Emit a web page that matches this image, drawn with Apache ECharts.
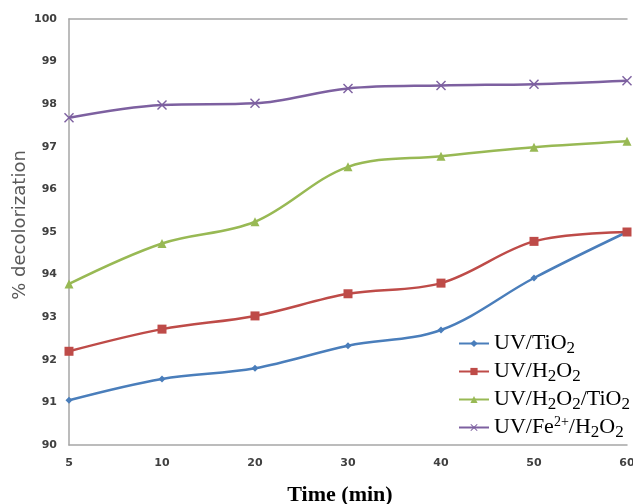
<!DOCTYPE html>
<html><head><meta charset="utf-8">
<script src="https://cdn.jsdelivr.net/npm/echarts@6/dist/echarts.min.js"></script>
<style>html,body{margin:0;padding:0;background:#fff}#c{width:633px;height:504px}</style>
</head><body><div id="c"></div>
<script>
const categories = ['5','10','20','30','40','50','60'];
const uvTiO2 = [91.05, 91.55, 91.8, 92.33, 92.7, 93.92, 95.0];
const uvH2O2 = [92.2, 92.72, 93.03, 93.55, 93.8, 94.78, 95.0];
const uvH2O2TiO2 = [93.78, 94.73, 95.24, 96.53, 96.78, 96.99, 97.13];
const uvFeH2O2 = [97.68, 97.98, 98.02, 98.37, 98.44, 98.47, 98.55];
const seriesNames = ['UV/TiO2', 'UV/H2O2', 'UV/H2O2/TiO2', 'UV/Fe2+/H2O2'];
const legendLabels = {
  'UV/TiO2': '{n|UV/TiO}{s|2}',
  'UV/H2O2': '{n|UV/H}{s|2}{n|O}{s|2}',
  'UV/H2O2/TiO2': '{n|UV/H}{s|2}{n|O}{s|2}{n|/TiO}{s|2}',
  'UV/Fe2+/H2O2': '{n|UV/Fe}{p|2+}{n|/H}{s|2}{n|O}{s|2}'
};

const crossPath = 'path://M0,1L1,0L5,4L9,0L10,1L6,5L10,9L9,10L5,6L1,10L0,9L4,5Z';
const colors = ['#4a7ebb', '#be4b48', '#98b954', '#7d60a0'];
const symbols = ['diamond', 'rect', 'triangle', crossPath];
const sizes = [7, 9, 9, 10];
const datas = [uvTiO2, uvH2O2, uvH2O2TiO2, uvFeH2O2];

const chart = echarts.init(document.getElementById('c'));
chart.setOption({
  animation: false,
  grid: {left: 69, right: 6, top: 19, bottom: 59, outerBoundsMode: 'none', containLabel: false},
  xAxis: [{
    type: 'category', data: categories, boundaryGap: false,
    axisLine: {lineStyle: {color: '#a6a6a6', width: 1.5}},
    axisTick: {show: false},
    axisLabel: {color: '#404040', fontSize: 11, fontWeight: 'bold', fontFamily: 'DejaVu Sans', margin: 13},
    name: 'Time (min)', nameLocation: 'middle', nameGap: 39, nameMoveOverlap: false,
    nameTextStyle: {fontFamily: 'Liberation Serif', fontWeight: 'bold', fontSize: 22, color: '#000', padding: [0, 16, 0, 0]}
  }, {
    type: 'category', data: categories, boundaryGap: false, position: 'top',
    axisLine: {lineStyle: {color: '#a6a6a6', width: 1.5}},
    axisTick: {show: false}, axisLabel: {show: false}
  }],
  yAxis: {
    type: 'value', min: 90, max: 100, interval: 1,
    axisLine: {show: true, lineStyle: {color: '#a6a6a6', width: 1.5}},
    axisTick: {show: false},
    splitLine: {show: false},
    axisLabel: {color: '#404040', fontSize: 11, fontWeight: 'bold', fontFamily: 'DejaVu Sans', margin: 12},
    name: '% decolorization', nameLocation: 'middle', nameGap: 40, nameMoveOverlap: false,
    nameTextStyle: {fontFamily: 'DejaVu Sans', fontSize: 18, color: '#595959', padding: [0, 0, 0, 14]}
  },
  legend: {
    orient: 'vertical', left: 453, top: 325, itemGap: 1,
    itemWidth: 30, itemHeight: 9,
    formatter: name => legendLabels[name],
    textStyle: {
      fontFamily: 'Liberation Serif', fontSize: 22, color: '#000',
      rich: {
        n: {fontFamily: 'Liberation Serif', fontSize: 22, color: '#000', lineHeight: 24},
        s: {fontFamily: 'Liberation Serif', fontSize: 17, color: '#000', lineHeight: 24, padding: [10, 0, 0, 0]},
        p: {fontFamily: 'Liberation Serif', fontSize: 14, color: '#000', lineHeight: 24, padding: [0, 0, 10, 0]}
      }
    },
    data: seriesNames
  },
  series: datas.map((d, i) => ({
    name: seriesNames[i], type: 'line', data: d, smooth: 0.35,
    symbol: symbols[i], symbolSize: sizes[i],
    lineStyle: {color: colors[i], width: 2.5},
    itemStyle: {color: colors[i]}
  }))
});
</script></body></html>
